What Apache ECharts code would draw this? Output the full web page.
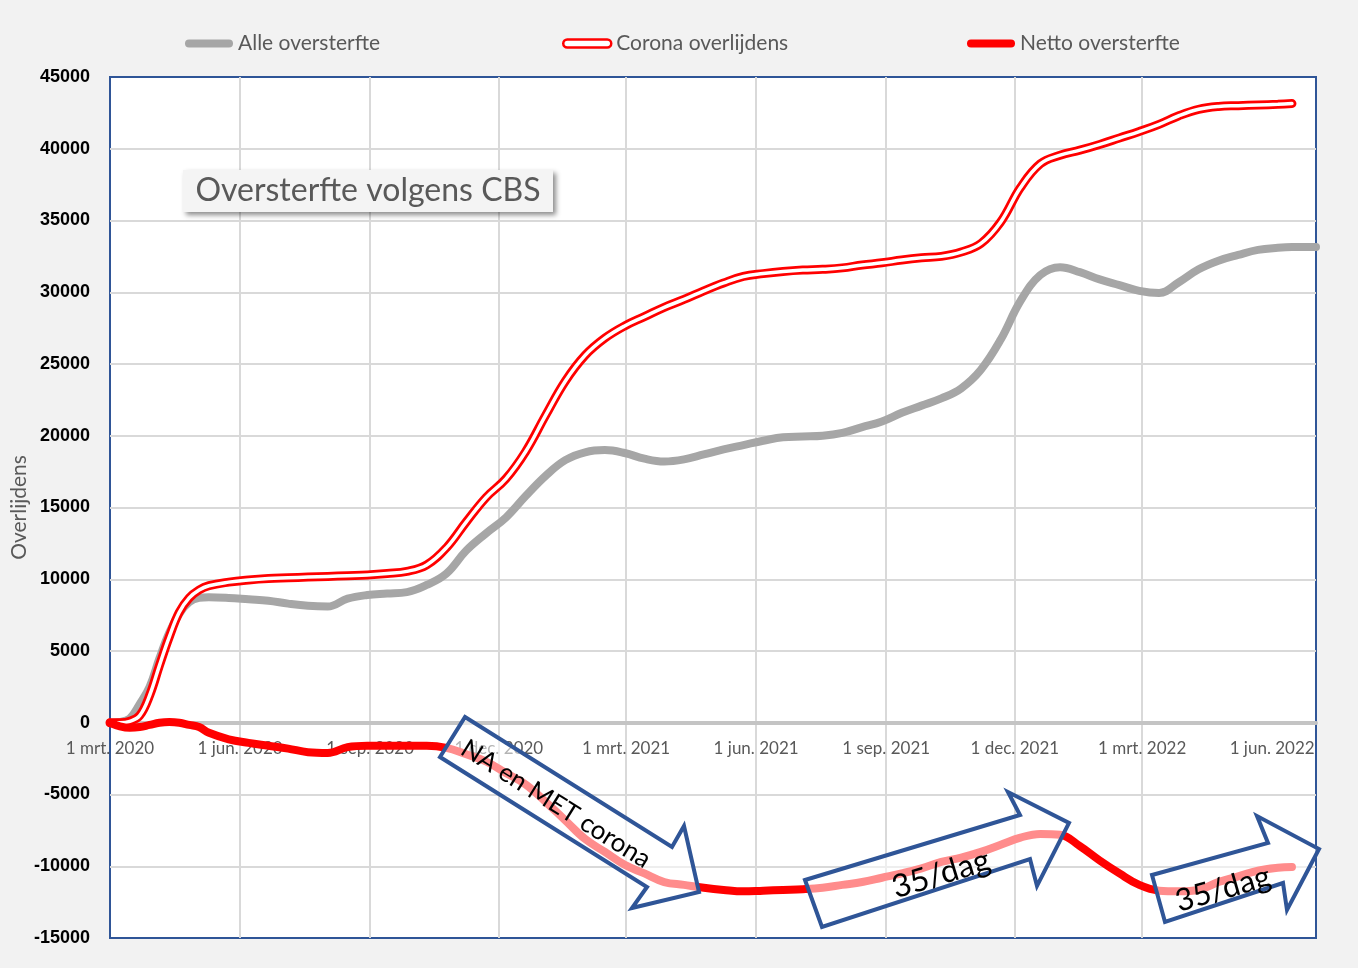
<!DOCTYPE html>
<html><head><meta charset="utf-8">
<script src="https://cdn.jsdelivr.net/npm/echarts@6/dist/echarts.min.js"></script>
<style>html,body{margin:0;padding:0;background:#f2f2f2}#c{width:1358px;height:968px}</style>
</head><body><div id="c"></div>
<script>
const dates = ['2020-03-01','2020-03-08','2020-03-15','2020-03-22','2020-03-29','2020-04-05','2020-04-12','2020-04-19','2020-04-26','2020-05-03','2020-05-10','2020-05-24','2020-06-07','2020-06-21','2020-07-05','2020-07-19','2020-08-02','2020-08-16','2020-08-30','2020-09-13','2020-09-27','2020-10-11','2020-10-25','2020-11-08','2020-11-22','2020-12-06','2020-12-20','2021-01-03','2021-01-17','2021-01-31','2021-02-14','2021-02-28','2021-03-14','2021-03-28','2021-04-11','2021-04-25','2021-05-09','2021-05-23','2021-06-06','2021-06-20','2021-07-04','2021-07-18','2021-08-01','2021-08-15','2021-08-29','2021-09-12','2021-09-26','2021-10-10','2021-10-24','2021-11-07','2021-11-21','2021-12-05','2021-12-19','2022-01-02','2022-01-16','2022-01-30','2022-02-13','2022-02-27','2022-03-13','2022-03-27','2022-04-10','2022-04-24','2022-05-08','2022-05-22','2022-06-05','2022-06-15','2022-07-02'];
const alleOversterfte = [0,50,300,1300,2500,4500,6300,7600,8400,8700,8750,8700,8600,8500,8300,8150,8100,8650,8900,9000,9100,9600,10400,12000,13200,14300,15800,17200,18300,18850,19000,18800,18400,18200,18350,18700,19050,19350,19650,19900,19950,20000,20200,20600,21000,21600,22100,22600,23300,24600,26700,29400,31200,31750,31400,30900,30500,30100,29950,30700,31600,32200,32600,32950,33100,33150,33150];
const coronaOverlijdens = [0,0,100,500,1900,4000,6000,7700,8700,9250,9550,9800,9950,10050,10100,10150,10200,10250,10300,10400,10550,11000,12200,14000,15700,17000,18900,21400,23800,25600,26800,27650,28300,28950,29500,30100,30650,31100,31300,31450,31550,31600,31700,31900,32050,32250,32400,32500,32800,33400,34900,37300,38950,39550,39900,40300,40750,41200,41700,42300,42750,42950,43000,43050,43100,43150,null];
const nettoOversterfte = [0,-250,-350,-300,-150,0,50,0,-150,-300,-700,-1150,-1400,-1600,-1800,-2050,-2100,-1700,-1600,-1600,-1600,-1600,-1750,-2200,-2700,-3500,-4300,-5500,-6800,-8100,-9000,-9900,-10500,-11100,-11300,-11500,-11650,-11750,-11700,-11650,-11600,-11500,-11300,-11100,-10800,-10500,-10150,-9700,-9400,-9000,-8500,-8000,-7750,-7800,-8600,-9600,-10500,-11300,-11700,-11750,-11650,-11100,-10700,-10300,-10100,-10050,null];
const tickDates = ['2020-03-01','2020-06-01','2020-09-01','2020-12-01','2021-03-01','2021-06-01','2021-09-01','2021-12-01','2022-03-01','2022-06-01'];
const monthNames = ['jan.','feb.','mrt.','apr.','mei','jun.','jul.','aug.','sep.','okt.','nov.','dec.'];
const xRange = ['2020-03-01','2022-07-02'];
const yRange = [-15000, 45000, 5000];
const seriesNames = ['Alle oversterfte','Corona overlijdens','Netto oversterfte'];

function ts(s){const p=s.split('-').map(Number);return Date.UTC(p[0],p[1]-1,p[2]);}
function pairs(vals){return dates.map((d,i)=>[ts(d),vals[i]]);}
const capsule='path://M4,0H44A4,4,0,0,1,44,8H4A4,4,0,0,1,4,0Z';
const FONT='Lato';
const legendText={fontSize:21,color:'#595959',fontFamily:FONT};
function legend(left,item){return {left:left,top:28,itemWidth:48,itemHeight:8,selectedMode:false,textStyle:legendText,data:[item]};}
const tickVals=tickDates.map(ts);
const GRID={left:110,right:42,top:77,bottom:30};
const gridH=968-GRID.top-GRID.bottom;
const zeroOffset=-gridH*(0-yRange[0])/(yRange[1]-yRange[0]);

const chart=echarts.init(document.getElementById('c'));
chart.setOption({
  backgroundColor:'#f2f2f2',
  animation:false,
  legend:[
    legend(180,{name:seriesNames[0],icon:capsule,itemStyle:{color:'#a6a6a6'}}),
    legend(557,{name:seriesNames[1],icon:capsule,itemStyle:{color:'#ffffff',borderColor:'#ff0000',borderWidth:2.5}}),
    legend(962,{name:seriesNames[2],icon:capsule,itemStyle:{color:'#ff0000'}})
  ],
  grid:Object.assign({show:true,backgroundColor:'#ffffff',borderColor:'#2f5597',borderWidth:2,containLabel:false,outerBoundsMode:'none'},GRID),
  xAxis:{
    type:'value',min:ts(xRange[0]),max:ts(xRange[1]),scale:true,offset:zeroOffset,
    axisLine:{onZero:false,lineStyle:{color:'#c4c4c4',width:4}},
    axisTick:{show:false,customValues:tickVals},
    axisLabel:{customValues:tickVals,margin:17,fontSize:17,fontFamily:FONT,color:'#595959',hideOverlap:false,
      formatter:function(v){const d=new Date(v);return d.getUTCDate()+' '+monthNames[d.getUTCMonth()]+' '+d.getUTCFullYear();}},
    splitLine:{show:true,showMinLine:false,showMaxLine:false,lineStyle:{color:'#d9d9d9',width:2}}
  },
  yAxis:{
    type:'value',min:yRange[0],max:yRange[1],interval:yRange[2],
    name:'Overlijdens',nameLocation:'middle',nameGap:80,nameMoveOverlap:false,nameTextStyle:{fontSize:21,color:'#595959',fontFamily:FONT},
    axisLine:{show:false},axisTick:{show:false},
    axisLabel:{margin:20,fontSize:18,fontWeight:'bold',color:'#000',fontFamily:'Liberation Sans',formatter:function(v){return String(v);}},
    splitLine:{showMinLine:false,showMaxLine:false,lineStyle:{color:'#d9d9d9',width:2}}
  },
  series:[
    {name:seriesNames[0],type:'line',data:pairs(alleOversterfte),smooth:0.4,symbol:'none',color:'#a6a6a6',lineStyle:{width:8,color:'#a6a6a6',cap:'round'},z:2},
    {name:seriesNames[1],type:'line',data:pairs(coronaOverlijdens),smooth:0.4,symbol:'none',color:'#ff0000',lineStyle:{width:9,color:'#ff0000',cap:'round'},z:3},
    {name:'corona-inner',type:'line',data:pairs(coronaOverlijdens),smooth:0.4,symbol:'none',color:'#ffffff',lineStyle:{width:3.5,color:'#ffffff',cap:'round'},z:4},
    {name:seriesNames[2],type:'line',data:pairs(nettoOversterfte),smooth:0.4,symbol:'none',color:'#ff0000',lineStyle:{width:8,color:'#ff0000',cap:'round'},z:5}
  ],
  graphic:[
    {type:'rect',z:100,shape:{x:183,y:170,width:370,height:42},style:{fill:'#f4f4f4',shadowBlur:5,shadowOffsetX:3,shadowOffsetY:3,shadowColor:'rgba(0,0,0,0.45)'}},
    {type:'text',z:101,x:368,y:191,style:{text:'Oversterfte volgens CBS',fontSize:32,fontFamily:FONT,fill:'#595959',align:'center',verticalAlign:'middle'}},
    {type:'polygon',z:100,shape:{points:[[465,717],[672,847],[684,826],[699,892],[632,908],[647,887],[440,757]]},style:{fill:'rgba(255,255,255,0.55)',stroke:'#2f5597',lineWidth:4,lineJoin:'miter'}},
    {type:'text',z:101,x:556,y:804,rotation:-32*Math.PI/180,style:{text:'NA en MET corona',fontSize:26,fontFamily:FONT,fill:'#000',align:'center',verticalAlign:'middle'}},
    {type:'polygon',z:100,shape:{points:[[805,880],[1020,815],[1008,792],[1069,823],[1037,886],[1030,859],[822,927]]},style:{fill:'rgba(255,255,255,0.55)',stroke:'#2f5597',lineWidth:4,lineJoin:'miter'}},
    {type:'text',z:101,x:941,y:874,rotation:17*Math.PI/180,style:{text:'35/dag',fontSize:32,fontFamily:FONT,fill:'#000',align:'center',verticalAlign:'middle'}},
    {type:'polygon',z:100,shape:{points:[[1152,875],[1268,843],[1257,816],[1319,849],[1287,910],[1283,883],[1165,922]]},style:{fill:'rgba(255,255,255,0.55)',stroke:'#2f5597',lineWidth:4,lineJoin:'miter'}},
    {type:'text',z:101,x:1223,y:889,rotation:16*Math.PI/180,style:{text:'35/dag',fontSize:31,fontFamily:FONT,fill:'#000',align:'center',verticalAlign:'middle'}}
  ]
});
</script></body></html>
